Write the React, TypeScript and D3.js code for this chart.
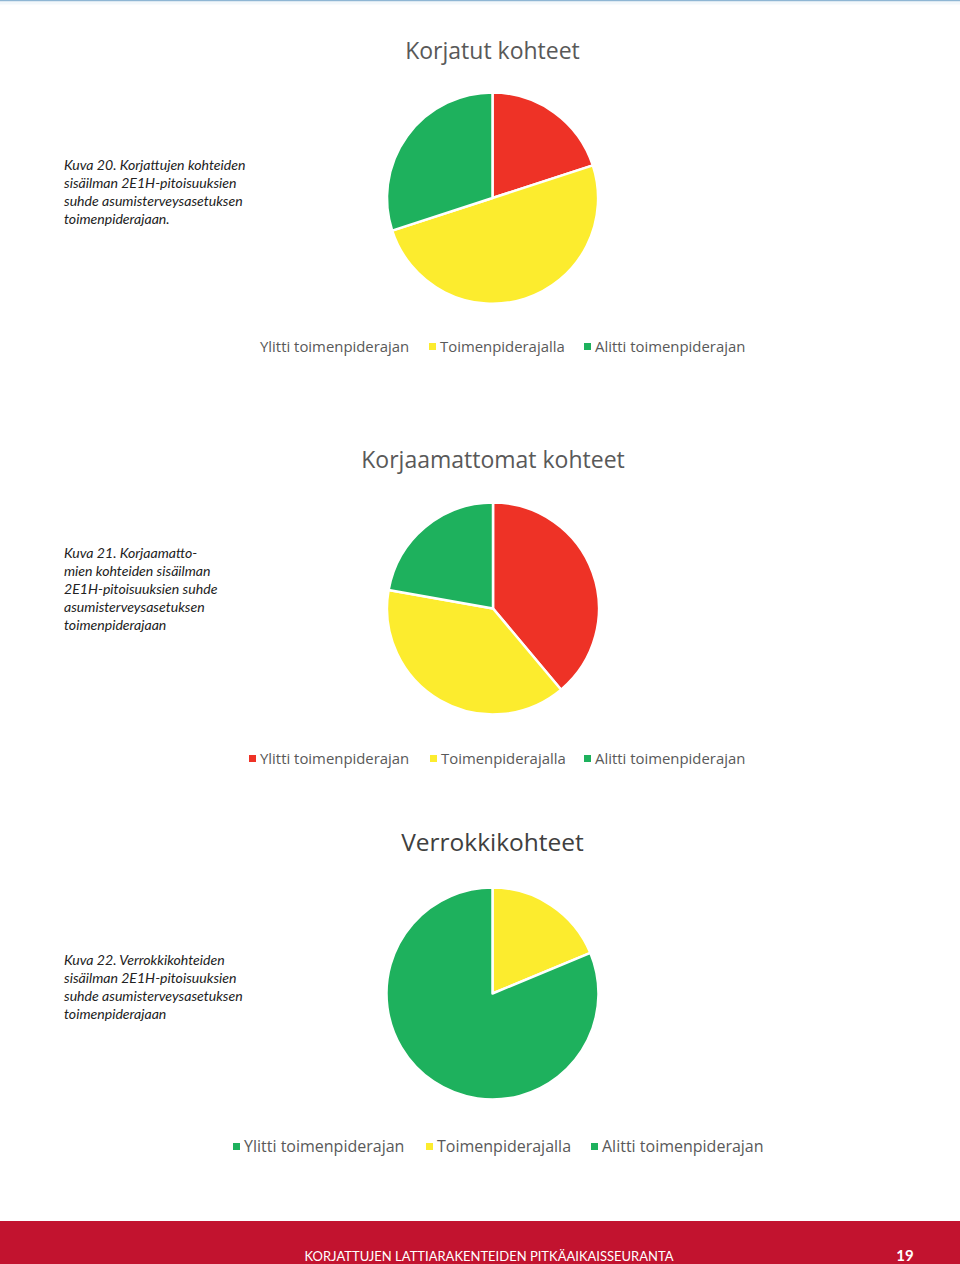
import React from "react";
import * as d3 from "d3";

const categories = ["Ylitti toimenpiderajan", "Toimenpiderajalla", "Alitti toimenpiderajan"];
const korjatutValues = [2, 5, 3];
const korjaamattomatValues = [7, 7, 4];
const verrokkiValues = [0, 3, 13];
const chartTitles = ["Korjatut kohteet", "Korjaamattomat kohteet", "Verrokkikohteet"];
const captions = [
  ["Kuva 20. Korjattujen kohteiden", "sisäilman 2E1H-pitoisuuksien", "suhde asumisterveysasetuksen", "toimenpiderajaan."],
  ["Kuva 21. Korjaamatto-", "mien kohteiden sisäilman", "2E1H-pitoisuuksien suhde", "asumisterveysasetuksen", "toimenpiderajaan"],
  ["Kuva 22. Verrokkikohteiden", "sisäilman 2E1H-pitoisuuksien", "suhde asumisterveysasetuksen", "toimenpiderajaan"],
];
const footerText = "KORJATTUJEN LATTIARAKENTEIDEN PITKÄAIKAISSEURANTA";
const pageNumber = "19";

const sliceColors = ["#ee3226", "#fcec2e", "#1eb15d"];

type ChartCfg = {
  values: number[];
  cx: number; cy: number; r: number;
  titleY: number; titleSize: number; titleColor: string;
  capX: number; capY: number;
  legendY: number; legendSize: number;
  legendX: number[]; legendMarkers: string[];
};

const charts: ChartCfg[] = [
  { values: korjatutValues, cx: 492.5, cy: 198, r: 105.5, titleY: 59, titleSize: 23, titleColor: "#595959",
    capX: 64, capY: 170, legendY: 352, legendSize: 14.9, legendX: [260, 440, 595], legendMarkers: ["#ffffff", "#fcec2e", "#1eb15d"] },
  { values: korjaamattomatValues, cx: 493, cy: 608.5, r: 106, titleY: 468, titleSize: 23, titleColor: "#595959",
    capX: 64, capY: 558, legendY: 764, legendSize: 14.9, legendX: [260, 441, 595], legendMarkers: ["#ee3226", "#fcec2e", "#1eb15d"] },
  { values: verrokkiValues, cx: 492.5, cy: 993.5, r: 106, titleY: 851, titleSize: 24.5, titleColor: "#404040",
    capX: 64, capY: 965, legendY: 1152, legendSize: 16, legendX: [244, 437, 602], legendMarkers: ["#1eb15d", "#fcec2e", "#1eb15d"] },
];

function Pie({ cfg, idx }: { cfg: ChartCfg; idx: number }) {
  const pie = d3.pie<number>().value((d) => d).sort(null);
  const arc = d3.arc<d3.PieArcDatum<number>>().innerRadius(0).outerRadius(cfg.r);
  const arcs = pie(cfg.values);
  return (
    <g>
      <text x={cfg.cx} y={cfg.titleY} textAnchor="middle" fontFamily="'Open Sans', sans-serif"
        fontSize={cfg.titleSize} fill={cfg.titleColor}>{chartTitles[idx]}</text>
      <g transform={`translate(${cfg.cx},${cfg.cy})`}>
        {arcs.map((a, i) => a.value > 0 ? (
          <path key={i} d={arc(a) || ""} fill={sliceColors[i]} stroke="#ffffff" strokeWidth={2.5} strokeLinejoin="round" />
        ) : null)}
      </g>
      {captions[idx].map((line, i) => (
        <text key={i} x={cfg.capX} y={cfg.capY + i * 18} fontFamily="Lato, sans-serif" fontStyle="italic"
          fontSize={14.1} fill="#222222">{line}</text>
      ))}
      {categories.map((c, i) => (
        <g key={i}>
          <rect x={cfg.legendX[i] - 11} y={cfg.legendY - 9} width={7} height={7} fill={cfg.legendMarkers[i]} />
          <text x={cfg.legendX[i]} y={cfg.legendY} fontFamily="'Open Sans', sans-serif" fontSize={cfg.legendSize}
            fill="#595959">{c}</text>
        </g>
      ))}
    </g>
  );
}

export default function App() {
  return (
    <svg width={960} height={1264} style={{ position: "absolute", left: 0, top: 0, display: "block" }}>
      <rect x={0} y={0} width={960} height={1264} fill="#ffffff" />
      <rect x={0} y={0} width={960} height={1.5} fill="#8fb6d4" />
      <rect x={0} y={1.5} width={960} height={3} fill="#f3f8fb" />
      {charts.map((c, i) => <Pie key={i} cfg={c} idx={i} />)}
      <rect x={0} y={1221} width={960} height={43} fill="#c2132f" />
      <text x={489} y={1261} textAnchor="middle" fontFamily="Lato, sans-serif" fontSize={13} fill="#ffffff">{footerText}</text>
      <text x={905} y={1261} textAnchor="middle" fontFamily="Lato, sans-serif" fontWeight="bold" fontSize={15} fill="#ffffff">{pageNumber}</text>
    </svg>
  );
}
